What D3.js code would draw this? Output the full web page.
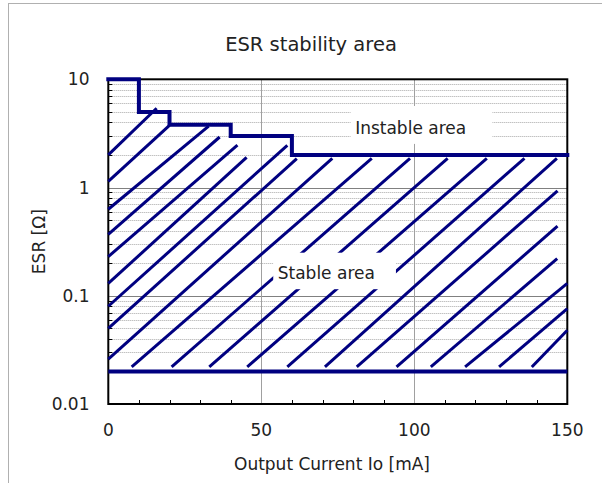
<!DOCTYPE html>
<html>
<head>
<meta charset="utf-8">
<script src="https://cdn.jsdelivr.net/npm/d3@7"></script>
<style>
  html, body { margin: 0; padding: 0; background: #fff; }
  svg { display: block; font-family: "DejaVu Sans", Verdana, sans-serif; }
</style>
</head>
<body>
<svg id="chart" width="602" height="483"></svg>
<script>
// Axis ticks
const xTicks = [0, 50, 100, 150];
const xMinorTicks = [10, 20, 30, 40, 60, 70, 80, 90, 110, 120, 130, 140];
const yTicks = [0.01, 0.1, 1, 10];
const yTickLabels = ["0.01", "0.1", "1", "10"];

// Upper ESR limit (stair-step) and lower ESR limit
const upperLimitX = [0, 10, 10, 20, 20, 40, 40, 60, 60, 150];
const upperLimitY = [10, 10, 5, 5, 3.8, 3.8, 3, 3, 2, 2];
const lowerLimitX = [0, 150];
const lowerLimitY = [0.02, 0.02];

// Hatch segments filling the stable region (start / end points)
const hatchX1 = [0, 0, 0, 0, 0, 0, 0, 0, 0,
  7.65, 20.7, 33.0, 45.4, 58.5, 70.8, 81.2, 94.2, 105.4, 116.6, 127.7, 138.4];
const hatchY1 = [2.0, 1.14, 0.63, 0.37, 0.23, 0.13, 0.08, 0.05, 0.026,
  0.022, 0.022, 0.022, 0.022, 0.022, 0.022, 0.022, 0.022, 0.022, 0.022, 0.022, 0.022];
const hatchX2 = [15.8, 20.0, 32.8, 36.4, 42.2, 45.2, 58.5, 61.6, 73.2,
  86.1, 98.6, 110.9, 123.7, 136.0, 146.6, 146.8, 146.8, 146.7, 150, 150, 150];
const hatchY2 = [5.4, 3.75, 3.7, 2.93, 2.47, 1.9, 2.45, 1.85, 1.86,
  1.86, 1.86, 1.86, 1.86, 1.86, 1.86, 0.93, 0.44, 0.22, 0.13, 0.076, 0.048];

const titleText = "ESR stability area";
const xTitle = "Output Current Io [mA]";
const yTitle = "ESR [Ω]";
const instableText = "Instable area";
const stableText = "Stable area";

const NAVY = "#000080";
const svg = d3.select("#chart");

const plotL = 108.3, plotR = 567.3, plotT = 79.3, plotB = 404;
const x = d3.scaleLinear().domain([0, 150]).range([plotL, plotR]);
const y = d3.scaleLog().domain([0.01, 10]).range([plotB, plotT]);

// Chart-area border
svg.append("rect")
  .attr("x", 8.5).attr("y", 3.5).attr("width", 700).attr("height", 700)
  .attr("fill", "#fff").attr("stroke", "#b0b0b0").attr("stroke-width", 1);

// Minor horizontal gridlines (2..9 in each decade)
const minorY = [];
[0.01, 0.1, 1].forEach(d => { for (let k = 2; k <= 9; k++) minorY.push(+(d * k).toPrecision(3)); });

const grid = svg.append("g");
grid.selectAll("line.minor").data(minorY).join("line")
  .attr("x1", plotL).attr("x2", plotR)
  .attr("y1", d => Math.round(y(d)) + 0.5).attr("y2", d => Math.round(y(d)) + 0.5)
  .attr("stroke", "#a8a8a8").attr("stroke-width", 1).attr("stroke-dasharray", "1,1");

// Major horizontal gridlines
grid.selectAll("line.major").data([0.1, 1]).join("line")
  .attr("x1", plotL).attr("x2", plotR)
  .attr("y1", d => Math.round(y(d)) + 0.5).attr("y2", d => Math.round(y(d)) + 0.5)
  .attr("stroke", "#808080").attr("stroke-width", 1);

// Vertical gridlines
grid.selectAll("line.vx").data([50, 100]).join("line")
  .attr("y1", plotT).attr("y2", plotB)
  .attr("x1", d => Math.round(x(d)) + 0.5).attr("x2", d => Math.round(x(d)) + 0.5)
  .attr("stroke", "#a0a0a0").attr("stroke-width", 1);

// Inward minor ticks on left axis
grid.selectAll("line.ty").data(minorY).join("line")
  .attr("x1", plotL).attr("x2", plotL + 4)
  .attr("y1", d => Math.round(y(d)) + 0.5).attr("y2", d => Math.round(y(d)) + 0.5)
  .attr("stroke", "#000").attr("stroke-width", 1);

// Inward minor ticks on bottom axis
grid.selectAll("line.tx").data(xMinorTicks).join("line")
  .attr("y1", plotB).attr("y2", plotB - 4)
  .attr("x1", d => Math.round(x(d)) + 0.5).attr("x2", d => Math.round(x(d)) + 0.5)
  .attr("stroke", "#000").attr("stroke-width", 1);

// Plot frame
svg.append("rect")
  .attr("x", plotL).attr("y", plotT).attr("width", plotR - plotL).attr("height", plotB - plotT)
  .attr("fill", "none").attr("stroke", "#000").attr("stroke-width", 2);

// Hatching
const hatch = d3.range(hatchX1.length).map(i => ({x1: hatchX1[i], y1: hatchY1[i], x2: hatchX2[i], y2: hatchY2[i]}));
svg.append("g").selectAll("line").data(hatch).join("line")
  .attr("x1", d => x(d.x1)).attr("y1", d => y(d.y1))
  .attr("x2", d => x(d.x2)).attr("y2", d => y(d.y2))
  .attr("stroke", NAVY).attr("stroke-width", 3);

// Limit lines
const line = d3.line().x(d => x(d[0])).y(d => y(d[1]));
svg.append("path").datum(d3.zip(upperLimitX, upperLimitY))
  .attr("d", line).attr("fill", "none").attr("stroke", NAVY).attr("stroke-width", 4)
  .attr("stroke-linejoin", "miter").attr("stroke-linecap", "square");
svg.append("path").datum(d3.zip(lowerLimitX, lowerLimitY))
  .attr("d", line).attr("fill", "none").attr("stroke", NAVY).attr("stroke-width", 4);

// Region labels on white boxes
function label(text, bx0, by0, bx1, by1) {
  svg.append("rect")
    .attr("x", x(bx0)).attr("y", y(by0))
    .attr("width", x(bx1) - x(bx0)).attr("height", y(by1) - y(by0))
    .attr("fill", "#fff");
  svg.append("text")
    .attr("x", x(bx0) + 4.5).attr("y", y(by1) - 10)
    .attr("font-size", 17).attr("fill", "#222")
    .text(text);
}
label(instableText, 79.2, 5.67, 125.5, 2.53);
label(stableText, 53.9, 0.25, 94.0, 0.115);

// Tick labels
svg.append("g").selectAll("text").data(yTicks).join("text")
  .attr("x", 89.5).attr("y", d => y(d)).attr("dy", "0.36em")
  .attr("text-anchor", "end").attr("font-size", 17).attr("fill", "#222")
  .text((d, i) => yTickLabels[i]);
svg.append("g").selectAll("text").data(xTicks).join("text")
  .attr("x", d => x(d)).attr("y", 436)
  .attr("text-anchor", "middle").attr("font-size", 17).attr("fill", "#222")
  .text(d => d);

// Titles
svg.append("text").attr("x", 311).attr("y", 51)
  .attr("text-anchor", "middle").attr("font-size", 19.5).attr("fill", "#222")
  .text(titleText);
svg.append("text").attr("x", 332).attr("y", 470)
  .attr("text-anchor", "middle").attr("font-size", 17).attr("fill", "#222")
  .text(xTitle);
svg.append("text")
  .attr("transform", `translate(45,${(plotT + plotB) / 2}) rotate(-90)`)
  .attr("text-anchor", "middle").attr("font-size", 17).attr("fill", "#222")
  .text(yTitle);
</script>
</body>
</html>
